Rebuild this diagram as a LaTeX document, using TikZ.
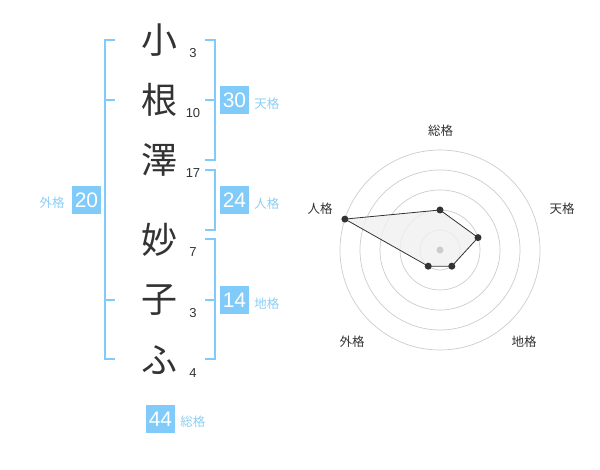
\documentclass[tikz,border=0pt]{standalone}
\usepackage{fontspec}
\setmainfont{Liberation Sans}
\newfontfamily\jp{Noto Sans CJK JP}
\usetikzlibrary{positioning}
\definecolor{kakublue}{RGB}{128,203,249}
\definecolor{kakulabel}{RGB}{140,206,244}
\definecolor{inkgray}{RGB}{51,51,51}
\definecolor{ringgray}{RGB}{204,204,204}
\definecolor{fillgray}{RGB}{240,240,240}
\tikzset{
  kanji/.style={inner sep=0pt, text=inkgray, font=\jp\fontsize{36}{36}\selectfont},
  strokes/.style={inner sep=0pt, text=inkgray, font=\fontsize{13}{13}\selectfont},
  bracket/.style={draw=kakublue, line width=2pt},
  score/.style={fill=kakublue, text=white, inner sep=0pt, minimum width=29pt,
    minimum height=28pt, font=\fontsize{21}{21}\selectfont},
  kaku/.style={inner sep=0pt, text=kakulabel, font=\jp\fontsize{12.5}{12.5}\selectfont},
  axis/.style={inner sep=0pt, text=inkgray, font=\jp\fontsize{12.5}{12.5}\selectfont},
  ring/.style={draw=ringgray, line width=0.7pt},
  dot/.style={circle, fill=inkgray, inner sep=0pt, minimum size=7pt}
}
\begin{document}
\begin{tikzpicture}[x=1pt, y=-1pt]
\useasboundingbox (0,0) rectangle (600,470);
% name
\node[kanji] (c1) at (159, 40) {小};
\node[kanji] (c2) at (159,100) {根};
\node[kanji] (c3) at (159,160) {澤};
\node[kanji] (c4) at (159,240) {妙};
\node[kanji] (c5) at (159,300) {子};
\node[kanji] (c6) at (159,360) {ふ};
\node[strokes] (s1) at (193, 53) {3};
\node[strokes] (s2) at (193,113) {10};
\node[strokes] (s3) at (193,173) {17};
\node[strokes] (s4) at (193,252) {7};
\node[strokes] (s5) at (193,313) {3};
\node[strokes] (s6) at (193,373) {4};
% brackets
\draw[bracket] (115,40) -- (105,40) -- (105,359) -- (115,359);
\draw[bracket] (105,100) -- (115,100) (105,300) -- (115,300);
\draw[bracket] (205,40) -- (215,40) -- (215,160) -- (205,160);
\draw[bracket] (205,100) -- (215,100);
\draw[bracket] (205,170) -- (215,170) -- (215,230) -- (205,230);
\draw[bracket] (205,239) -- (215,239) -- (215,359) -- (205,359);
\draw[bracket] (205,300) -- (215,300);
% scores
\node[score] (ten) at (234.5,100) {30};
\node[score] (jin) at (234.5,200) {24};
\node[score] (chi) at (234.5,300) {14};
\node[score] (gai) at (86.5,200) {20};
\node[score] (sou) at (160.5,419) {44};
\node[kaku, right=5pt of ten, yshift=-4pt] (tenl) {天格};
\node[kaku, right=5pt of jin, yshift=-4pt] (jinl) {人格};
\node[kaku, right=5pt of chi, yshift=-4pt] (chil) {地格};
\node[kaku, left=7pt of gai, yshift=-3pt] (gail) {外格};
\node[kaku, right=5pt of sou, yshift=-3pt] (soul) {総格};
% radar
\coordinate (o) at (440,250);
\foreach \r in {20,40,...,100}
  \draw[ring] (o) circle[radius=\r];
\coordinate (p1) at ([shift={(0,-40)}]o);
\coordinate (p2) at ([shift={(38,-12.4)}]o);
\coordinate (p3) at ([shift={(11.8,16.2)}]o);
\coordinate (p4) at ([shift={(-11.8,16.2)}]o);
\coordinate (p5) at ([shift={(-95.1,-30.9)}]o);
\draw[inkgray, line width=0.8pt, fill=fillgray, fill opacity=0.8]
  (p1) -- (p2) -- (p3) -- (p4) -- (p5) -- cycle;
\foreach \p in {p1,p2,p3,p4,p5}
  \node[dot] at (\p) {};
\node[circle, fill=ringgray, inner sep=0pt, minimum size=7pt] (ctr) at (o) {};
\node[axis] (a1) at (440.7,130.7) {総格};
\node[axis] (a2) at (562,208.7) {天格};
\node[axis] (a3) at (524,342) {地格};
\node[axis] (a4) at (352,342) {外格};
\node[axis] (a5) at (320,208.7) {人格};
\end{tikzpicture}
\end{document}
